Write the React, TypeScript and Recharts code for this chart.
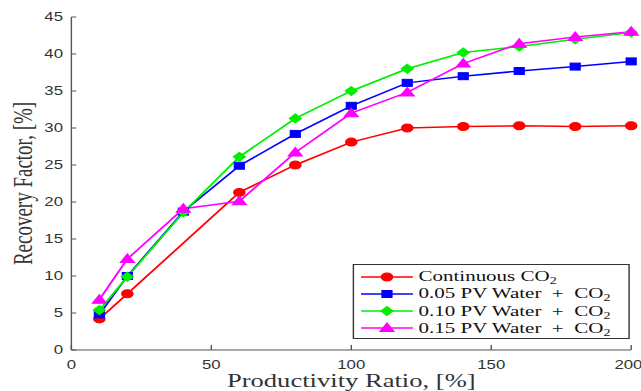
import { Legend, Line, LineChart, XAxis, YAxis } from "recharts";

const X_VALUES = [10, 20, 40, 60, 80, 100, 120, 140, 160, 180, 200];
const CONTINUOUS = [4.2, 7.6, null, 21.3, 25.0, 28.1, 30.0, 30.2, 30.3, 30.2, 30.3];
const PV_005 = [4.8, 10.0, 18.7, 24.9, 29.2, 33.0, 36.1, 37.0, 37.7, 38.3, 39.0];
const PV_010 = [5.4, 9.9, 18.6, 26.1, 31.3, 35.0, 38.0, 40.2, 41.0, 42.0, 42.9];
const PV_015 = [6.8, 12.3, 19.1, 20.1, 26.7, 32.0, 34.8, 38.7, 41.4, 42.3, 43.0];

const X_TICKS = [0, 50, 100, 150, 200];
const Y_TICKS = [0, 5, 10, 15, 20, 25, 30, 35, 40, 45];

const SERIES_KEYS = ["cont", "pv005", "pv010", "pv015"];
const SERIES_LABELS = ["Continuous CO", "0.05 PV Water \u00a0+\u00a0 CO", "0.10 PV Water \u00a0+\u00a0 CO", "0.15 PV Water \u00a0+\u00a0 CO"];
const SERIES_COLORS = ["#ff0000", "#0000ff", "#00ee00", "#ff00ff"];
const SERIES_MARKERS = ["circle", "square", "diamond", "triangle"];

const rows = X_VALUES.map((x, i) => ({
  x,
  cont: CONTINUOUS[i],
  pv005: PV_005[i],
  pv010: PV_010[i],
  pv015: PV_015[i],
}));

// the reference is stretched sideways, so the chart is drawn narrow and scaled
const W = 458;
const H = 391;
const SX = 641 / W;

const SERIF = "'Liberation Serif', 'Times New Roman', serif";
const tickFont = { fill: "#333", fontSize: 12, fontFamily: "'Liberation Sans', Arial, sans-serif" };
const titleFont = { fill: "#333", fontSize: 19, fontFamily: SERIF };

function Marker({ kind, cx, cy, color }: { kind: string; cx: number; cy: number; color: string }) {
  if (kind === "circle") return <circle cx={cx} cy={cy} r={4} fill={color} stroke={color} />;
  if (kind === "square") return <rect x={cx - 3.5} y={cy - 3.5} width={7} height={7} fill={color} stroke={color} />;
  if (kind === "diamond")
    return <polygon points={`${cx},${cy - 4.5} ${cx + 4.3},${cy} ${cx},${cy + 4.5} ${cx - 4.3},${cy}`} fill={color} stroke={color} />;
  return <polygon points={`${cx},${cy - 5} ${cx + 5},${cy + 3.5} ${cx - 5},${cy + 3.5}`} fill={color} stroke={color} />;
}

function dotRenderer(kind: string, color: string) {
  return (p: any) => {
    const k = `${kind}-${p.index}`;
    if (p.cy == null || p.value == null) return <g key={k} />;
    return (
      <g key={k}>
        <Marker kind={kind} cx={p.cx} cy={p.cy} color={color} />
      </g>
    );
  };
}

function LegendBox() {
  return (
    <div
      style={{
        border: "1px solid #333",
        background: "#fff",
        padding: "3px 0",
        boxSizing: "border-box",
        width: 198,
        height: 75,
        fontFamily: SERIF,
        fontSize: 15,
        color: "#111",
      }}
    >
      {SERIES_LABELS.map((label, i) => (
        <div key={label} style={{ display: "flex", alignItems: "center", height: 17.25 }}>
          <svg width={46} height={12} style={{ flex: "none" }}>
            <line x1={5} y1={6} x2={42} y2={6} stroke={SERIES_COLORS[i]} strokeWidth={1.5} />
            <Marker kind={SERIES_MARKERS[i]} cx={23.5} cy={6} color={SERIES_COLORS[i]} />
          </svg>
          <span style={{ whiteSpace: "nowrap", lineHeight: "15px", fontFamily: SERIF }}>
            {label}
            <span style={{ fontSize: 10, lineHeight: "10px", position: "relative", top: 3 }}>2</span>
          </span>
        </div>
      ))}
    </div>
  );
}

export default function App() {
  return (
    <div style={{ width: 641, height: H, overflow: "hidden", background: "#fff" }}>
      <style>{`body { margin: 0; }`}</style>
      <div style={{ width: W, height: H, transform: `scaleX(${SX})`, transformOrigin: "0 0" }}>
        <LineChart width={W} height={H} data={rows} margin={{ top: 17, right: 7, bottom: 0, left: 0 }}>
          <XAxis
            xAxisId="b"
            dataKey="x"
            type="number"
            domain={[0, 200]}
            ticks={X_TICKS}
            height={41}
            tickSize={-5}
            tickMargin={15}
            stroke="#555"
            tick={tickFont}
            label={{ value: "Productivity Ratio, [%]", position: "insideBottom", offset: 4, style: titleFont }}
          />
          <XAxis
            xAxisId="t"
            orientation="top"
            dataKey="x"
            type="number"
            domain={[0, 200]}
            ticks={X_TICKS}
            height={0}
            tickSize={-5}
            stroke="#555"
            tick={false}
          />
          <YAxis
            yAxisId="l"
            type="number"
            domain={[0, 45]}
            ticks={Y_TICKS}
            width={51}
            tickSize={-3.5}
            tickMargin={9.5}
            stroke="#555"
            tick={tickFont}
            label={{
              value: "Recovery Factor, [%]",
              angle: -90,
              position: "insideLeft",
              offset: 16,
              style: { ...titleFont, textAnchor: "middle" },
            }}
          />
          <YAxis
            yAxisId="r"
            orientation="right"
            type="number"
            domain={[0, 45]}
            ticks={Y_TICKS}
            width={0}
            tickSize={-3.5}
            stroke="#555"
            tick={false}
          />
          {SERIES_KEYS.map((key, i) => (
            <Line
              key={key}
              xAxisId="b"
              yAxisId="l"
              dataKey={key}
              type="linear"
              stroke={SERIES_COLORS[i]}
              strokeWidth={1.5}
              connectNulls
              dot={dotRenderer(SERIES_MARKERS[i], SERIES_COLORS[i])}
              activeDot={false}
              isAnimationActive={false}
            />
          ))}
          <Legend
            layout="horizontal"
            verticalAlign="middle"
            align="center"
            content={() => <LegendBox />}
            wrapperStyle={{ left: 252, top: 264, width: 198, height: 75 }}
          />
        </LineChart>
      </div>
    </div>
  );
}
